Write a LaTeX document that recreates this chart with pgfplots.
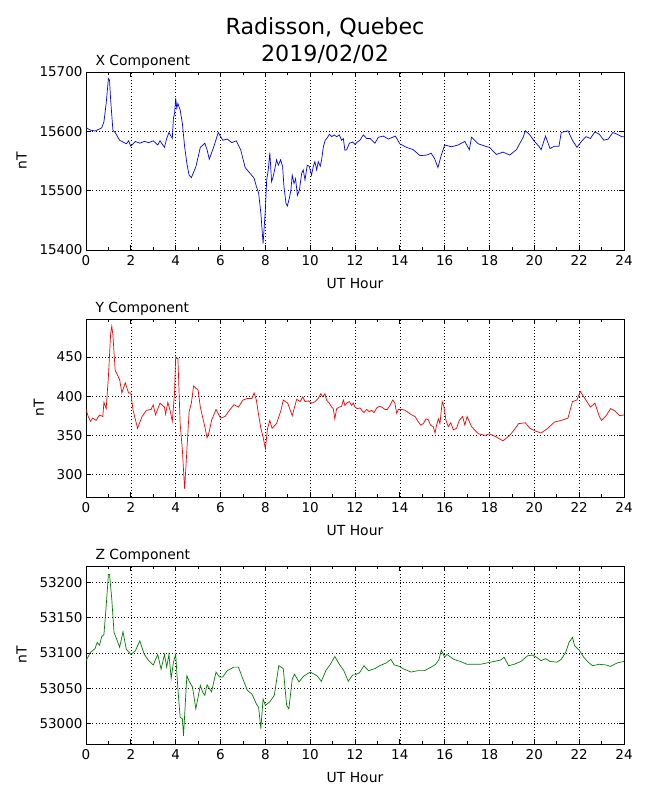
\documentclass[border=0pt]{standalone}
\usepackage{pgfplots}
\pgfplotsset{compat=1.18}
\usepackage{fontspec}
\setmainfont{DejaVu Sans}
\definecolor{mgreen}{rgb}{0,0.5,0}
\pgfplotsset{
  magstyle/.style={
    width=538bp, height=178bp, scale only axis,
    xmin=0, xmax=24, xtick={0,2,...,24}, minor x tick num=1,
    scaled ticks=false,
    yticklabel={\pgfmathprintnumber[fixed,precision=0,1000 sep={}]{\tick}},
    grid=major,
    major grid style={black, line width=0.5bp, dash pattern=on 0.8bp off 2.4bp},
    axis line style={line width=1bp},
    major tick length=5bp, minor tick length=2.8bp,
    every tick/.style={black, line width=0.7bp},
    tick align=inside,
    /pgf/number format/assume math mode=true,
    /pgf/number format/1000 sep={},
    ticklabel style={font=\fontsize{13.5bp}{16bp}\selectfont},
    xticklabel style={yshift=-2bp},
    label style={font=\fontsize{13.9bp}{16bp}\selectfont},
    xlabel style={yshift=-6bp},
    ylabel style={yshift=6bp},
    xlabel={UT Hour}, ylabel={nT},
    every axis title shift=0pt,
    title style={font=\fontsize{13.9bp}{16bp}\selectfont, at={(0,1)}, anchor=base west, yshift=7bp, xshift=6bp},
    anchor=north west,
  }
}
\pgfplotstableread{
h v
0.0 15606
0.2 15602
0.4 15600.5
0.6 15604
0.7 15606
0.8 15616
0.9 15647
1.0 15689
1.05 15686
1.1 15653
1.2 15602
1.3 15598
1.5 15585
1.7 15581
1.8 15579
1.9 15584
2.0 15575
2.2 15583
2.4 15580
2.6 15583
2.8 15581
3.0 15584
3.2 15577
3.3 15584
3.5 15573
3.6 15588
3.7 15598
3.85 15588
3.9 15622
3.95 15630
4.0 15656
4.05 15639
4.1 15647
4.2 15636
4.3 15613
4.4 15574
4.5 15546
4.6 15526
4.7 15522
4.9 15540
5.1 15573
5.3 15580
5.4 15569
5.5 15553
5.7 15574
5.9 15598
6.1 15585
6.3 15587
6.5 15581
6.7 15584
6.9 15569
7.1 15539
7.3 15530
7.5 15521
7.6 15507
7.7 15496
7.8 15462
7.9 15411
8.0 15467
8.06 15518
8.13 15535
8.2 15564
8.28 15515
8.35 15524
8.43 15538
8.5 15552
8.58 15543
8.68 15552
8.77 15541
8.83 15507
8.92 15479
8.98 15474
9.07 15487
9.14 15501
9.2 15526
9.28 15512
9.35 15520
9.43 15492
9.52 15501
9.62 15529
9.69 15535
9.77 15518
9.87 15543
9.96 15541
10.06 15526
10.14 15541
10.21 15549
10.29 15535
10.36 15549
10.45 15541
10.51 15552
10.59 15574
10.67 15585
10.74 15588
10.86 15595
10.96 15591
11.07 15594
11.18 15591
11.3 15594
11.4 15585
11.48 15588
11.55 15568
11.63 15569
11.75 15580
11.9 15582
12.0 15578
12.1 15582
12.22 15585
12.37 15594
12.52 15588
12.67 15588
12.89 15580
13.04 15590
13.26 15592
13.49 15587
13.8 15592
14.0 15579
14.3 15573
14.6 15569
14.9 15559
15.2 15560
15.4 15563
15.55 15554
15.7 15539
15.85 15560
16.0 15577
16.3 15574
16.6 15577
16.9 15583
17.1 15569
17.2 15590
17.5 15579
17.8 15575
18.0 15573
18.3 15561
18.6 15565
18.9 15560
19.2 15569
19.5 15590
19.6 15601
19.8 15594
20.0 15583
20.2 15575
20.3 15569
20.5 15592
20.7 15571
20.9 15575
21.1 15575
21.2 15598
21.5 15601
21.7 15585
21.9 15573
22.1 15583
22.3 15591
22.5 15588
22.7 15599
22.9 15595
23.1 15585
23.3 15587
23.5 15598
23.7 15595
23.9 15591
24.0 15591
}\xdata
\pgfplotstableread{
h v
0.0 383
0.1 374
0.2 368
0.3 372
0.45 369
0.6 376
0.75 374
0.8 392
0.9 384
1.0 425
1.1 480
1.15 489
1.2 478
1.3 433
1.4 427
1.5 421
1.6 404
1.75 417
1.9 404
2.0 404
2.1 382
2.3 359
2.5 374
2.7 382
2.9 383
3.0 389
3.1 376
3.3 391
3.5 386
3.55 377
3.65 392
3.75 382
3.85 368
3.95 404
4.0 450
4.05 448
4.1 448
4.2 365
4.3 331
4.35 306
4.4 282
4.5 331
4.6 380
4.7 391
4.8 413
4.9 410
5.0 408
5.1 386
5.3 361
5.4 347
5.5 355
5.6 369
5.8 383
6.0 372
6.2 374
6.4 382
6.6 389
6.8 386
7.0 395
7.2 397
7.4 397
7.5 404
7.6 395
7.7 376
7.8 359
7.9 348
8.0 333
8.1 359
8.2 369
8.3 359
8.5 365
8.7 382
8.8 395
9.0 391
9.2 375
9.4 396
9.55 393
9.67 399
9.77 393
9.92 394
10.07 391
10.22 393
10.36 397
10.47 403
10.56 399
10.66 403
10.73 395
10.85 391
10.96 386
11.03 384
11.1 371
11.18 384
11.3 386
11.4 387
11.48 395
11.55 388
11.63 391
11.75 393
11.85 388
11.92 391
12.0 386
12.1 384
12.22 385
12.3 382
12.4 379
12.52 383
12.64 380
12.74 382
12.85 379
12.97 385
13.09 387
13.19 386
13.34 383
13.44 383
13.56 388
13.68 395
13.78 391
13.86 378
13.93 383
14.08 383
14.23 382
14.38 379
14.53 376
14.68 374
14.83 367
14.93 363
15.05 365
15.17 371
15.27 370
15.37 363
15.49 361
15.57 353
15.64 363
15.72 371
15.79 365
15.89 393
15.97 386
16.06 369
16.16 361
16.27 366
16.39 357
16.53 359
16.65 369
16.8 374
16.9 363
17.0 374
17.2 361
17.5 352
17.8 350
18.0 352
18.3 348
18.6 343
18.9 350
19.1 357
19.3 365
19.6 366
19.8 359
20.0 356
20.3 353
20.6 359
20.9 367
21.2 369
21.5 372
21.7 393
21.9 395
22.05 406
22.3 395
22.5 386
22.7 391
22.9 374
23.0 369
23.2 375
23.4 384
23.6 381
23.8 375
24.0 376
}\ydata
\pgfplotstableread{
h v
0.0 53089
0.2 53101
0.4 53106
0.5 53115
0.6 53111
0.7 53123
0.8 53126
0.9 53166
1.0 53211
1.05 53211
1.15 53176
1.25 53129
1.4 53117
1.5 53108
1.65 53130
1.8 53105
2.0 53098
2.2 53103
2.4 53117
2.6 53098
2.8 53089
3.0 53083
3.2 53098
3.35 53077
3.5 53098
3.6 53080
3.7 53098
3.8 53064
3.9 53087
4.0 53098
4.1 53049
4.2 53009
4.3 53007
4.35 52983
4.45 53040
4.5 53068
4.6 53060
4.75 53052
4.9 53021
5.1 53054
5.2 53045
5.3 53040
5.4 53055
5.6 53045
5.8 53073
5.95 53066
6.1 53066
6.3 53075
6.6 53080
6.8 53080
7.0 53063
7.2 53047
7.4 53042
7.6 53028
7.7 53023
7.8 52993
7.9 53035
8.0 53026
8.2 53031
8.4 53040
8.6 53082
8.8 53078
8.95 53026
9.05 53021
9.2 53063
9.3 53070
9.5 53059
9.7 53067
10.0 53073
10.3 53068
10.5 53060
10.7 53075
10.9 53084
11.1 53095
11.3 53084
11.5 53075
11.7 53060
11.9 53069
12.0 53069
12.2 53072
12.4 53082
12.6 53075
12.9 53078
13.1 53082
13.4 53086
13.6 53091
13.75 53083
13.9 53082
14.2 53077
14.5 53073
14.8 53075
15.1 53075
15.4 53080
15.6 53084
15.75 53091
15.85 53104
16.0 53094
16.1 53098
16.4 53091
16.7 53088
17.0 53084
17.3 53084
17.6 53084
17.9 53086
18.2 53088
18.5 53090
18.65 53094
18.85 53082
19.1 53084
19.4 53088
19.7 53096
19.9 53097
20.1 53094
20.3 53089
20.5 53092
20.7 53088
21.0 53087
21.2 53091
21.4 53101
21.55 53115
21.7 53122
21.8 53110
22.0 53104
22.2 53094
22.4 53087
22.6 53082
22.9 53084
23.2 53083
23.4 53081
23.7 53086
24.0 53088
}\zdata
\begin{document}
\begin{tikzpicture}
\useasboundingbox (0,0) rectangle (650bp,-800bp);
\node[font=\fontsize{22.2bp}{26bp}\selectfont, anchor=base] at (325bp,-34bp) {Radisson, Quebec};
\node[font=\fontsize{22.2bp}{26bp}\selectfont, anchor=base] at (325bp,-61bp) {2019/02/02};
\begin{axis}[magstyle, at={(86bp,-72bp)}, ymin=15400, ymax=15700, ytick={15400,15500,15600,15700}, title={X Component}]
\addplot[blue, line width=0.7bp] table[x=h,y=v] {\xdata};
\end{axis}
\begin{axis}[magstyle, at={(86bp,-319bp)}, ymin=271.5, ymax=498.2, ytick={300,350,400,450}, title={Y Component}]
\addplot[red, line width=0.7bp] table[x=h,y=v] {\ydata};
\end{axis}
\begin{axis}[magstyle, at={(86bp,-566bp)}, ymin=52971.3, ymax=53222.9, ytick={53000,53050,53100,53150,53200}, title={Z Component}]
\addplot[mgreen, line width=0.7bp] table[x=h,y=v] {\zdata};
\end{axis}
\end{tikzpicture}
\end{document}
